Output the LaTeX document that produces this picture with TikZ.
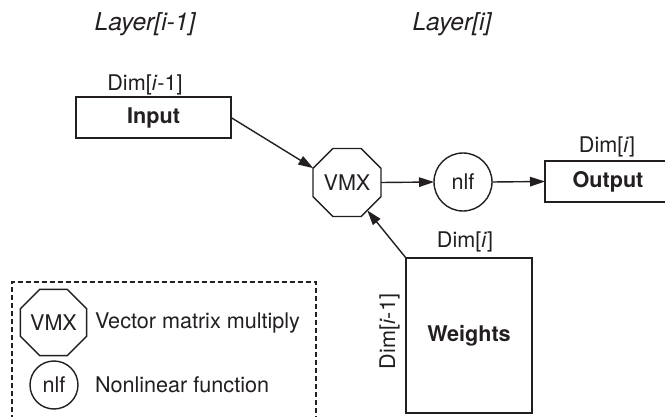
\documentclass[tikz,border=0pt]{standalone}
\usepackage{fontspec}
\setmainfont{TeX Gyre Heros}
\usetikzlibrary{shapes.geometric,arrows.meta}
\definecolor{ink}{HTML}{231F20}
\begin{document}
\begin{tikzpicture}[x=1pt,y=-1pt,
  every node/.style={text=ink, font=\fontsize{21.6}{26}\selectfont, inner sep=0pt, outer sep=0pt},
  line/.style={draw=ink, line width=1.4pt},
  arr/.style={line, -{Triangle[length=15pt,width=9.5pt]}},
  boxnode/.style={line, rectangle, font=\fontsize{21.6}{26}\selectfont\bfseries},
  octo/.style={line, regular polygon, regular polygon sides=8},
  circ/.style={line, circle},
  lbl/.style={anchor=base},
  layer/.style={anchor=base, font=\fontsize{24.6}{29}\selectfont\itshape}]
\useasboundingbox (0,0) rectangle (665,417);

% layer headings
\node[layer] (l1) at (145,31) {Layer[i-1]};
\node[layer] (l2) at (452,31) {Layer[i]};

% main blocks
\node[boxnode, minimum width=155pt, minimum height=41pt] (input) at (153.5,117.5) {Input};
\node[lbl] (dinput) at (145,91) {Dim[\textit{i}-1]};

\node[octo, minimum size=73.6pt] (vmx) at (347,182.5) {VMX};
\node[circ, minimum size=58pt] (nlf) at (463,182) {nlf};

\node[boxnode, minimum width=126pt, minimum height=41pt] (output) at (608,181.5) {Output};
\node[lbl] (doutput) at (607,153) {Dim[\textit{i}]};

\node[boxnode, minimum width=126pt, minimum height=155pt] (weights) at (469,335.5) {Weights};
\node[lbl] (dwtop) at (465,248) {Dim[\textit{i}]};
\node[lbl, rotate=90] (dwleft) at (395,331.5) {Dim[\textit{i}-1]};

% connectors
\draw[arr] (input.east) -- (vmx.157.5);
\draw[arr] (vmx.east) -- (nlf.west);
\draw[arr] (nlf.east) -- (output.west);
\draw[arr] (weights.north west) -- (vmx.-54);

% legend
\draw[draw=ink, line width=1.1pt, dash pattern=on 5pt off 3pt] (12,420) -- (12,282) -- (316,282) -- (316,420);
\node[octo, minimum size=63.9pt] (lvmx) at (53.5,322.5) {VMX};
\node[anchor=west] (lvmxt) at (95,322.5) {Vector matrix multiply};
\node[circ, minimum size=48pt] (lnlf) at (54,385) {nlf};
\node[anchor=west] (lnlft) at (95,385) {Nonlinear function};
\end{tikzpicture}
\end{document}
